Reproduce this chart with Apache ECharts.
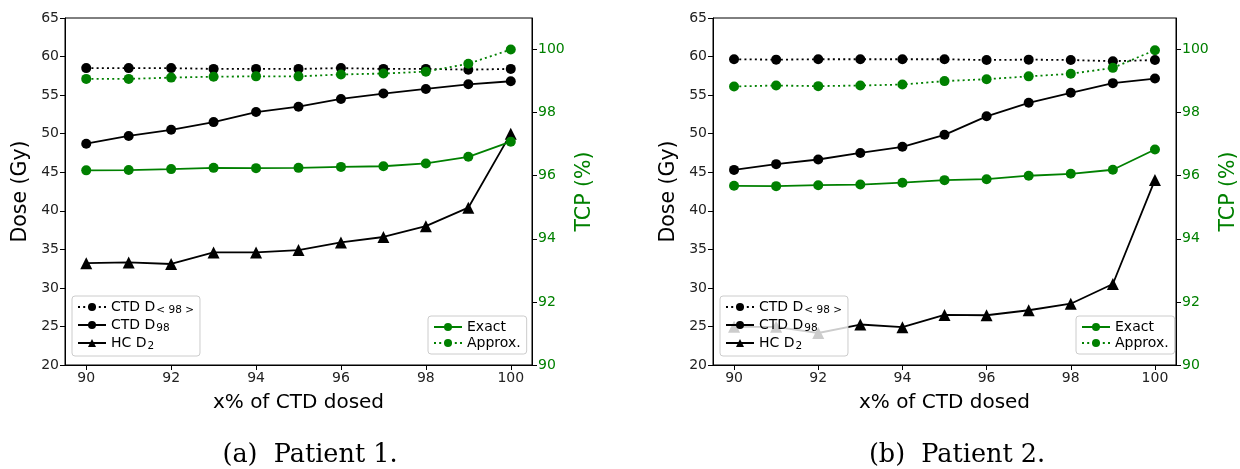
<!DOCTYPE html>
<html>
<head>
<meta charset="utf-8">
<script src="https://cdn.jsdelivr.net/npm/echarts@6/dist/echarts.min.js"></script>
<style>
  html, body { margin: 0; padding: 0; background: #fff; }
  #main { width: 1240px; height: 469px; }
</style>
</head>
<body>
<div id="main"></div>
<script>
// x% of CTD dosed
var xVals = [90, 91, 92, 93, 94, 95, 96, 97, 98, 99, 100];
var xTicks = [90, 92, 94, 96, 98, 100];
var tcpTicks = [90, 92, 94, 96, 98, 100];

// Patient 1
var p1CtdMean = [58.5, 58.5, 58.5, 58.4, 58.4, 58.4, 58.5, 58.4, 58.4, 58.3, 58.4];
var p1CtdD98 = [48.7, 49.7, 50.5, 51.5, 52.8, 53.5, 54.5, 55.2, 55.8, 56.4, 56.8];
var p1HcD2 = [33.2, 33.3, 33.1, 34.6, 34.6, 34.9, 35.9, 36.6, 38.0, 40.4, 50.0];
var p1TcpExact = [96.17, 96.18, 96.21, 96.25, 96.24, 96.25, 96.28, 96.30, 96.39, 96.60, 97.08];
var p1TcpApprox = [99.07, 99.07, 99.11, 99.14, 99.15, 99.15, 99.21, 99.24, 99.30, 99.55, 100.0];

// Patient 2
var p2CtdMean = [59.65, 59.6, 59.65, 59.65, 59.65, 59.65, 59.55, 59.6, 59.55, 59.4, 59.55];
var p2CtdD98 = [45.3, 46.05, 46.65, 47.5, 48.3, 49.85, 52.25, 54.0, 55.3, 56.55, 57.15];
var p2HcD2 = [24.95, 24.95, 24.15, 25.25, 24.9, 26.5, 26.45, 27.1, 27.95, 30.5, 44.0];
var p2TcpExact = [95.68, 95.67, 95.70, 95.72, 95.78, 95.86, 95.89, 96.0, 96.06, 96.19, 96.83];
var p2TcpApprox = [98.83, 98.86, 98.84, 98.86, 98.89, 99.0, 99.06, 99.15, 99.23, 99.42, 99.98];

var GREEN = '#008000';
var FONT = 'DejaVu Sans';

function pairs(ys) {
    var out = [];
    for (var i = 0; i < xVals.length; i++) {
        out.push([xVals[i], ys[i]]);
    }
    return out;
}

function lineSeries(name, ys, xi, yi, color, dotted, symbol) {
    return {
        name: name,
        type: 'line',
        xAxisIndex: xi,
        yAxisIndex: yi,
        data: pairs(ys),
        symbol: symbol || 'circle',
        symbolSize: symbol === 'triangle' ? 12 : 10,
        showSymbol: true,
        animation: false,
        itemStyle: { color: color },
        lineStyle: { color: color, width: 1.8, type: dotted ? [2, 3.2] : 'solid' },
        emphasis: { disabled: true }
    };
}

var chartDom = document.getElementById('main');
var myChart = echarts.init(chartDom);

var legendRich = {
    n: { fontSize: 14, fontFamily: FONT, color: '#000', lineHeight: 18 },
    s: { fontSize: 10.5, fontFamily: FONT, color: '#000', lineHeight: 18, verticalAlign: 'bottom', padding: [0, 0, 0, 1] }
};

function legendFmt(name) {
    if (name === 'CTD D<98>') return '{n|CTD D}{s|< 98 >}';
    if (name === 'CTD D98') return '{n|CTD D}{s|98}';
    if (name === 'HC D2') return '{n|HC D}{s|2}';
    return '{n|' + name + '}';
}

function makeLegend(left, top, names) {
    return {
        orient: 'vertical',
        left: left,
        top: top,
        data: names,
        itemWidth: 28,
        itemHeight: 10,
        itemGap: 2,
        padding: [4, 6, 4, 5],
        borderColor: '#cccccc',
        borderWidth: 1,
        borderRadius: 3,
        backgroundColor: 'rgba(255,255,255,0.8)',
        selectedMode: false,
        formatter: legendFmt,
        textStyle: { rich: legendRich }
    };
}

function xAxisCfg(gi) {
    return {
        type: 'value',
        gridIndex: gi,
        min: 89.5,
        max: 100.5,
        name: 'x% of CTD dosed',
        nameLocation: 'middle',
        nameGap: 28,
        nameTextStyle: { fontSize: 20, fontFamily: FONT, color: '#000' },
        axisLine: { show: true, lineStyle: { color: '#000', width: 1 } },
        axisTick: { show: true, inside: false, length: 5, customValues: xTicks, lineStyle: { color: '#000' } },
        axisLabel: { customValues: xTicks, fontSize: 14, fontFamily: FONT, color: '#222', margin: 6 },
        splitLine: { show: false }
    };
}

function doseAxisCfg(gi) {
    return {
        type: 'value',
        gridIndex: gi,
        position: 'left',
        min: 20,
        max: 65,
        interval: 5,
        name: 'Dose (Gy)',
        nameLocation: 'middle',
        nameGap: 34,
        nameRotate: 90,
        nameTextStyle: { fontSize: 20.5, fontFamily: FONT, color: '#000' },
        axisLine: { show: true, lineStyle: { color: '#000', width: 1 } },
        axisTick: { show: true, length: 5, lineStyle: { color: '#000' } },
        axisLabel: { fontSize: 14, fontFamily: FONT, color: '#222', margin: 6 },
        splitLine: { show: false }
    };
}

function tcpAxisCfg(gi) {
    return {
        type: 'value',
        gridIndex: gi,
        position: 'right',
        min: 90,
        max: 101,
        name: 'TCP (%)',
        nameLocation: 'middle',
        nameGap: 42,
        nameRotate: 90,
        nameTextStyle: { fontSize: 20.5, fontFamily: FONT, color: GREEN },
        axisLine: { show: true, lineStyle: { color: '#000', width: 1 } },
        axisTick: { show: true, length: 5, customValues: tcpTicks, lineStyle: { color: '#000' } },
        axisLabel: { customValues: tcpTicks, fontSize: 14, fontFamily: FONT, color: GREEN, margin: 6 },
        splitLine: { show: false }
    };
}

var option = {
    backgroundColor: '#fff',
    animation: false,
    textStyle: { fontFamily: FONT },
    title: [
        { text: '(a)  Patient 1.', left: 305, top: 437, textAlign: 'center',
          textStyle: { fontSize: 25.5, fontWeight: 'normal', fontFamily: 'DejaVu Serif', color: '#000' } },
        { text: '(b)  Patient 2.', left: 952, top: 437, textAlign: 'center',
          textStyle: { fontSize: 25.5, fontWeight: 'normal', fontFamily: 'DejaVu Serif', color: '#000' } }
    ],
    grid: [
        { left: 65, top: 18, width: 467, height: 347, show: true, borderColor: '#000', borderWidth: 1, backgroundColor: 'transparent' },
        { left: 713, top: 18, width: 468, height: 347, show: true, borderColor: '#000', borderWidth: 1, backgroundColor: 'transparent' }
    ],
    xAxis: [xAxisCfg(0), xAxisCfg(1)],
    yAxis: [doseAxisCfg(0), tcpAxisCfg(0), doseAxisCfg(1), tcpAxisCfg(1)],
    legend: [
        makeLegend(72, 296, ['CTD D<98>', 'CTD D98', 'HC D2']),
        makeLegend(428, 316, ['Exact', 'Approx.']),
        makeLegend(720, 296, ['CTD D<98>', 'CTD D98', 'HC D2']),
        makeLegend(1076, 316, ['Exact', 'Approx.'])
    ],
    series: [
        lineSeries('CTD D<98>', p1CtdMean, 0, 0, '#000', true),
        lineSeries('CTD D98', p1CtdD98, 0, 0, '#000', false),
        lineSeries('HC D2', p1HcD2, 0, 0, '#000', false, 'triangle'),
        lineSeries('Exact', p1TcpExact, 0, 1, GREEN, false),
        lineSeries('Approx.', p1TcpApprox, 0, 1, GREEN, true),

        lineSeries('CTD D<98>', p2CtdMean, 1, 2, '#000', true),
        lineSeries('CTD D98', p2CtdD98, 1, 2, '#000', false),
        lineSeries('HC D2', p2HcD2, 1, 2, '#000', false, 'triangle'),
        lineSeries('Exact', p2TcpExact, 1, 3, GREEN, false),
        lineSeries('Approx.', p2TcpApprox, 1, 3, GREEN, true)
    ]
};

option && myChart.setOption(option, true);
</script>
</body>
</html>
